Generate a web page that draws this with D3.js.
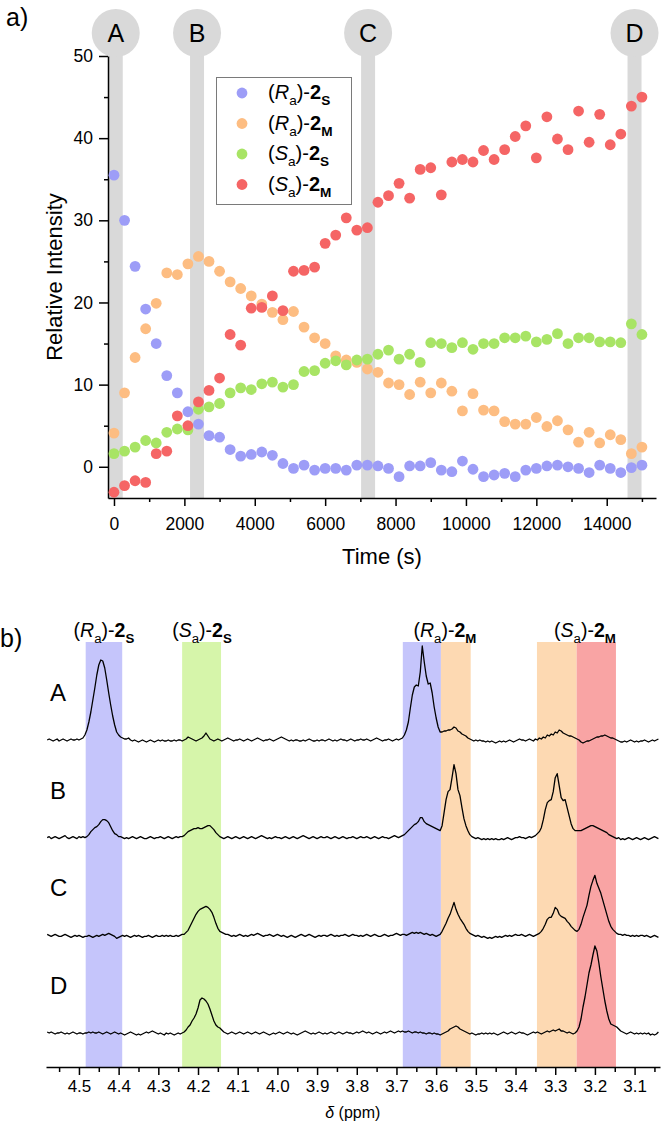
<!DOCTYPE html>
<html>
<head>
<meta charset="utf-8">
<script src="https://cdn.jsdelivr.net/npm/d3@7/dist/d3.min.js"></script>
<style>
html,body{margin:0;padding:0;background:#fff;}
svg text{font-family:"Liberation Sans",Arial,Helvetica,sans-serif;fill:#000;}
</style>
</head>
<body>
<svg id="chart" width="661" height="1124"></svg>
<script>
// ================= Panel a data =================
const times = [0,300,600,900,1200,1500,1800,2100,2400,2700,3000,3300,3600,3900,4200,4500,4800,5100,5400,5700,6000,
  6300,6600,6900,7200,7500,7800,8100,8400,8700,9000,9300,9600,9900,10200,10500,10800,11100,11400,11700,12000,
  12300,12600,12900,13200,13500,13800,14100,14400,14700,15000];
const raS = [35.5,30.0,24.4,19.2,15.0,11.1,9.0,6.7,5.2,3.8,3.6,2.1,1.3,1.5,1.8,1.4,0.4,-0.2,0.2,-0.4,-0.2,
  -0.2,-0.4,0.2,0.2,0.1,-0.2,-1.2,0.1,0.1,0.5,-0.4,-0.6,0.7,-0.3,-1.2,-1.0,-0.8,-1.2,-0.4,-0.2,0.1,0.2,0.0,-0.2,-0.7,0.2,-0.2,-0.7,-0.1,0.2];
const raM = [4.1,9.0,13.3,16.8,19.9,23.6,23.4,24.7,25.6,25.0,23.8,22.5,21.7,20.8,19.8,18.8,17.9,18.9,17.0,15.7,15.0,
  13.5,13.0,12.7,11.9,11.5,10.2,10.0,8.8,10.3,9.0,10.2,9.2,6.8,8.9,6.9,6.8,5.5,5.2,5.2,6.0,4.9,5.6,4.5,3.0,4.2,2.9,3.9,3.3,1.6,2.4];
const saS = [1.6,1.9,2.4,3.2,2.9,4.2,4.6,4.5,7.0,7.3,7.7,9.0,9.6,9.4,10.1,10.3,9.7,10.0,11.6,11.7,12.6,
  12.9,12.4,13.0,13.1,13.7,14.2,13.1,13.7,12.7,15.1,15.0,14.5,15.1,14.3,15.0,15.0,15.7,15.7,15.9,15.2,15.5,16.2,15.0,15.7,15.7,15.2,15.2,15.1,17.4,16.1];
const saM = [-3.1,-2.3,-1.7,-1.9,1.6,1.9,6.2,5.0,7.9,9.3,10.8,16.1,14.8,19.3,19.4,20.8,19.0,23.8,23.9,24.3,27.2,
  28.2,30.3,28.8,29.1,32.2,33.0,34.5,32.7,36.2,36.4,33.1,37.1,37.4,37.1,38.5,37.4,38.6,40.2,41.5,37.6,42.6,39.9,38.6,43.3,39.5,42.9,39.2,40.5,43.9,45.0];
const seriesConf = ["R","R","S","S"];
const seriesType = ["S","M","S","M"];
const markerLabels = ["A","B","C","D"];
const markerTimes = [50,2360,7220,14790];
const xTicks = [0,2000,4000,6000,8000,10000,12000,14000];
const xMinorTicks = [1000,3000,5000,7000,9000,11000,13000,15000];
const yTicks = [0,10,20,30,40,50];
const yMinorTicks = [5,15,25,35,45];

// ================= Panel b data =================
const traceLabels = ["A","B","C","D"];
// intensities sampled every 0.005 ppm from 4.580 down to 3.040
const specA = [
 0,1,0,-1,0,1,-1,0,1,0,-1,0,1,0,0,1,0,1,2,5,
 10,18,28,40,52,65,75,80,79,72,60,47,35,24,15,8,5,3,2,1,
 1,2,0,-1,0,-1,-2,-1,0,-1,-2,-1,0,-1,-2,-1,0,-1,0,-1,
 -1,0,-1,-1,0,-1,0,0,-1,0,1,3,2,1,0,-1,0,1,2,4,
 7,4,1,0,-1,0,1,0,-1,0,1,2,1,0,-1,0,0,1,0,-1,
 0,1,0,-1,0,1,2,1,0,-1,0,0,1,0,-1,0,1,2,3,2,
 1,0,-1,0,-1,0,0,-1,-1,0,-1,0,1,0,-1,-1,0,-1,0,0,
 -1,0,1,0,-1,0,-1,0,1,0,0,-1,0,1,0,-1,0,0,1,0,
 0,1,0,-1,0,1,2,1,0,-1,0,0,1,0,-1,0,1,0,1,2,
 5,10,18,32,45,53,55,54,68,94,78,64,56,57,47,33,22,13,8,8,
 9,9,10,10,11,13,12,9,8,6,5,4,2,1,0,-1,0,-1,0,-1,
 -1,-2,-1,-2,-1,-2,-3,-2,-1,-2,-1,-2,-1,0,-1,-2,-1,0,1,0,
 0,-1,0,1,0,-1,1,0,2,1,3,2,5,4,6,5,8,7,10,9,
 7,6,5,4,4,3,2,1,0,-2,-3,-2,-1,-1,0,1,2,3,3,4,
 4,5,4,3,2,2,1,0,-1,-2,-2,-1,-2,-1,0,-1,-2,-1,-2,-1,
 -1,0,-1,-2,-1,0,-1,0,1];
const specB = [
 0,1,-1,0,1,0,-1,0,1,2,0,-1,0,1,0,-1,1,0,1,0,
 1,3,6,8,10,11,13,16,18,18,17,15,11,7,4,3,1,1,0,-1,
 0,-1,0,1,0,-1,0,1,0,-1,-1,0,1,0,-1,0,0,1,0,-1,
 0,1,0,-1,0,1,0,1,1,2,4,6,7,8,9,9,10,9,9,10,
 11,12,12,10,8,5,3,1,0,-1,0,1,0,-1,0,1,0,-1,0,1,
 0,-1,0,1,0,-1,0,1,2,1,0,-1,0,-1,0,1,0,0,-1,0,
 1,0,-1,0,1,0,-1,0,1,2,1,0,-1,0,1,0,-1,0,1,0,
 0,1,0,-1,0,1,0,-1,0,1,0,-1,0,0,1,0,-1,0,1,0,
 0,1,0,-1,0,1,0,-1,0,1,0,0,-1,0,1,2,1,0,1,2,
 3,5,7,9,11,13,14,16,20,20,16,14,13,12,11,10,9,8,7,12,
 25,38,46,48,60,73,64,48,42,30,19,12,7,3,1,0,-1,0,-1,-2,
 -1,-2,-1,-2,-1,-2,-1,-2,-2,-1,-2,-1,0,-1,-2,-1,0,0,1,0,
 0,-1,0,1,0,1,2,4,6,10,18,28,35,37,38,46,60,64,52,40,
 37,38,30,22,14,9,7,7,7,7,8,9,10,11,12,12,11,10,9,8,
 7,6,5,3,2,1,0,-1,0,-2,-1,-2,-1,0,-1,-2,-1,0,-1,-2,
 -1,0,-1,-2,-1,0,1,0,-1];
const specC = [
 1,0,-1,0,1,0,-1,-1,0,1,0,-1,-2,-1,0,-1,0,-1,-2,-1,
 -1,0,-1,-2,-1,0,-1,0,1,0,1,2,1,0,-1,-3,-2,-1,0,-1,
 0,-1,-2,-1,0,-1,0,-1,-2,-1,-1,0,-1,-2,-1,0,-1,-1,0,-1,
 0,-1,0,-1,-1,0,-1,0,1,1,3,5,9,13,17,21,24,26,27,28,
 29,28,26,23,18,12,7,4,3,2,1,1,0,-1,0,-1,0,1,0,-1,
 0,-1,0,1,0,1,2,1,0,-1,0,0,1,0,-1,0,1,0,-1,0,
 -1,-2,-1,0,-1,-2,-1,0,1,0,-1,0,1,0,-1,-2,-1,0,-1,0,
 0,-1,0,1,0,-1,0,-1,0,0,1,0,-1,0,1,0,0,-1,0,-1,
 0,1,0,-1,0,1,0,-1,-1,0,1,0,-1,0,0,1,2,1,0,1,
 1,0,1,2,3,2,3,2,3,2,1,2,1,0,1,0,-1,0,1,4,
 8,12,17,21,27,33,26,21,17,14,11,7,4,2,1,0,-1,0,-1,-2,
 -1,-2,-3,-2,-3,-2,-1,-2,-1,-2,-1,0,-1,0,-1,0,1,0,0,1,
 0,-1,0,1,0,-1,0,1,2,4,7,11,16,18,18,22,28,26,21,19,
 18,17,14,12,9,7,5,4,6,11,18,24,30,40,49,55,60,52,47,42,
 35,28,21,14,9,6,4,2,1,1,0,1,0,0,-1,0,-1,0,-1,0,
 0,-1,0,-1,-2,-1,0,-1,-2];
const specD = [
 1,0,1,0,-1,0,0,1,0,-1,0,-1,0,1,0,-1,0,0,-1,0,
 0,1,0,1,0,0,1,0,-1,0,1,0,-1,0,1,0,-1,0,-1,-2,
 -1,0,1,0,-1,-2,-1,-2,-1,0,1,0,1,2,1,0,-1,0,-1,-2,
 0,-1,0,-1,-2,-1,0,-1,0,1,3,6,8,12,15,19,25,33,35,34,
 32,29,24,18,12,8,6,5,3,1,0,-1,0,1,0,-1,0,1,0,-1,
 0,1,0,-1,0,1,0,-1,0,1,0,-1,-2,-1,0,-1,0,1,0,-1,
 0,1,0,-1,0,-1,-2,-1,0,1,2,1,0,-1,0,-1,0,1,0,-1,
 0,-1,0,1,0,-1,0,1,0,-1,0,1,0,0,-1,0,1,0,1,2,
 1,0,1,0,-1,0,1,0,-1,0,1,0,1,2,1,0,1,2,1,2,
 1,1,2,1,0,1,1,0,1,0,0,-1,0,0,-1,0,-1,-1,-2,-1,
 0,1,2,4,5,6,7,6,4,3,2,1,0,-1,0,-1,-2,-1,-1,0,
 -1,0,-1,0,-1,0,-1,-2,-1,0,1,0,-1,0,1,0,-1,0,1,0,
 0,-1,-2,-1,0,1,0,1,0,-1,0,1,2,1,2,3,2,3,4,2,
 2,1,0,1,0,-1,0,2,6,14,26,36,48,60,68,78,87,82,70,56,
 44,32,22,14,9,8,7,6,4,2,1,0,-1,0,1,0,-1,0,-1,0,
 -1,0,-1,0,-2,-1,-2,-1,1];
const spectra = [specA, specB, specC, specD];
// integration regions (ppm) and the compound each belongs to (index into series)
const bandHi = [4.483, 4.240, 3.684, 3.588, 3.346, 3.246];
const bandLo = [4.391, 4.142, 3.588, 3.513, 3.246, 3.147];
const bandSeries = [0, 2, 0, 1, 1, 3];
const ppmTicks = [4.5,4.4,4.3,4.2,4.1,4.0,3.9,3.8,3.7,3.6,3.5,3.4,3.3,3.2,3.1];
const ppmMinorTicks = [4.55,4.45,4.35,4.25,4.15,4.05,3.95,3.85,3.75,3.65,3.55,3.45,3.35,3.25,3.15,3.05];

// ================= styles =================
const dotColors = ["#9d9df7", "#fdbd82", "#a8e465", "#f56565"];
const bandColors = ["#c5c5fb", "#fdd9b2", "#d6f5aa", "#f9a4a4"];
const grey = "#d9d9d9";
const svg = d3.select("#chart");

function compoundLabel(sel, conf, type, fs) {
  const sh = fs * 0.3;
  sel.append("tspan").text("(");
  sel.append("tspan").attr("font-style", "italic").text(conf);
  sel.append("tspan").attr("font-size", fs * 0.68).attr("dy", sh).text("a");
  sel.append("tspan").attr("dy", -sh).text(")-");
  sel.append("tspan").attr("font-weight", "bold").text("2");
  sel.append("tspan").attr("font-weight", "bold").attr("font-size", fs * 0.68).attr("dy", sh).text(type);
}
function styleAxis(g) {
  g.selectAll("path.domain").attr("stroke", "#000").attr("stroke-width", 1.5);
  g.selectAll(".tick line").attr("stroke", "#000").attr("stroke-width", 1.5);
}

// ================= Panel a =================
const x = d3.scaleLinear().domain([-170, 15400]).range([108, 656]);
const y = d3.scaleLinear().domain([-3.8, 50]).range([498, 56]);
const circY = 33;

svg.append("text").attr("x", 6).attr("y", 26).attr("font-size", 25).text("a)");

const mk = svg.append("g");
markerTimes.forEach((t, i) => {
  mk.append("rect").attr("x", x(t) - 7).attr("y", circY).attr("width", 14)
    .attr("height", y(-3.8) - circY).attr("fill", grey);
  mk.append("circle").attr("cx", x(t)).attr("cy", circY).attr("r", 24).attr("fill", grey);
  mk.append("text").attr("x", x(t)).attr("y", circY + 9).attr("text-anchor", "middle")
    .attr("font-size", 25).text(markerLabels[i]);
});

const gx = svg.append("g").attr("transform", `translate(0,${y(-3.8)})`);
gx.call(d3.axisBottom(x).tickValues(xMinorTicks).tickSize(4).tickSizeOuter(0).tickFormat(""));
gx.call(g => g.select("path.domain").remove());
const gx2 = svg.append("g").attr("transform", `translate(0,${y(-3.8)})`);
gx2.call(d3.axisBottom(x).tickValues(xTicks).tickSize(8).tickSizeOuter(0).tickPadding(12).tickFormat(d3.format("d")));
gx2.selectAll("text").attr("font-size", 17.5).attr("font-family", null);
styleAxis(gx); styleAxis(gx2);

const gy = svg.append("g").attr("transform", `translate(${x(-170)},0)`);
gy.call(d3.axisLeft(y).tickValues(yMinorTicks).tickSize(4).tickSizeOuter(0).tickFormat(""));
gy.call(g => g.select("path.domain").remove());
const gy2 = svg.append("g").attr("transform", `translate(${x(-170)},0)`);
gy2.call(d3.axisLeft(y).tickValues(yTicks).tickSize(9).tickSizeOuter(0).tickPadding(6));
gy2.selectAll("text").attr("font-size", 17.5).attr("font-family", null);
styleAxis(gy); styleAxis(gy2);

svg.append("text").attr("x", 382).attr("y", 564).attr("text-anchor", "middle")
  .attr("font-size", 22).text("Time (s)");
svg.append("text").attr("transform", `translate(62,277) rotate(-90)`).attr("text-anchor", "middle")
  .attr("font-size", 22).text("Relative Intensity");

const allSeries = [raS, raM, saS, saM];
allSeries.forEach((vals, k) => {
  svg.append("g").selectAll("circle").data(vals).join("circle")
    .attr("cx", (d, i) => x(times[i])).attr("cy", d => y(d)).attr("r", 5.4)
    .attr("fill", dotColors[k]);
});

// legend
const lg = svg.append("g");
lg.append("rect").attr("x", 216.5).attr("y", 77.5).attr("width", 135).attr("height", 127)
  .attr("fill", "#fff").attr("stroke", "#7a7a7a").attr("stroke-width", 1);
seriesConf.forEach((c, i) => {
  const ry = 93 + i * 30.5;
  lg.append("circle").attr("cx", 242).attr("cy", ry).attr("r", 5.4).attr("fill", dotColors[i]);
  const t = lg.append("text").attr("x", 268).attr("y", ry + 6).attr("font-size", 20);
  compoundLabel(t, c, seriesType[i], 20);
});

// ================= Panel b =================
const px = d3.scaleLinear().domain([4.583, 3.036]).range([46, 660]);
const axisY = 1067;
const bandTop = 642;
const baseY = d3.scaleLinear().domain([0, 3]).range([740, 1033]);
const inten = d3.scaleLinear().domain([0, 100]).range([0, 100]);
const ppmGrid = d3.range(specA.length).map(i => 4.58 - i * 0.005);

svg.append("text").attr("x", 0).attr("y", 647).attr("font-size", 25).text("b)");

const bandColorIdx = [0, 1, 2, 3];
svg.append("g").selectAll("rect").data(bandHi).join("rect")
  .attr("x", d => px(d)).attr("y", bandTop)
  .attr("width", (d, i) => px(bandLo[i]) - px(d)).attr("height", axisY - bandTop)
  .attr("fill", (d, i) => bandColors[bandColorIdx[bandSeries[i]]]);

// compound labels above bands
const labelPpm = [4.437, 4.19, 3.578, 3.225];
const labelSeries = [0, 2, 1, 3];
labelPpm.forEach((p, i) => {
  const k = labelSeries[i];
  const t = svg.append("text").attr("x", px(p)).attr("y", 637).attr("text-anchor", "middle").attr("font-size", 19.5);
  compoundLabel(t, seriesConf[k], seriesType[k], 19.5);
});

const line = d3.line().x((d, i) => px(ppmGrid[i]));
spectra.forEach((s, k) => {
  svg.append("path").datum(s)
    .attr("d", line.y(d => baseY(k) - inten(d)))
    .attr("fill", "none").attr("stroke", "#000").attr("stroke-width", 1.3).attr("stroke-linejoin", "round");
  svg.append("text").attr("x", 50).attr("y", baseY(k) - 39).attr("font-size", 24).text(traceLabels[k]);
});

const gb = svg.append("g").attr("transform", `translate(0,${axisY})`);
gb.call(d3.axisBottom(px).tickValues(ppmMinorTicks).tickSize(5).tickSizeOuter(0).tickFormat(""));
gb.call(g => g.select("path.domain").remove());
const gb2 = svg.append("g").attr("transform", `translate(0,${axisY})`);
gb2.call(d3.axisBottom(px).tickValues(ppmTicks).tickSize(8).tickSizeOuter(0).tickPadding(5).tickFormat(d3.format(".1f")));
gb2.selectAll("text").attr("font-size", 17).attr("font-family", null);
styleAxis(gb); styleAxis(gb2);

const xl = svg.append("text").attr("x", px(3.81)).attr("y", 1118).attr("text-anchor", "middle").attr("font-size", 16);
xl.append("tspan").attr("font-style", "italic").text("δ");
xl.append("tspan").text(" (ppm)");
</script>
</body>
</html>
